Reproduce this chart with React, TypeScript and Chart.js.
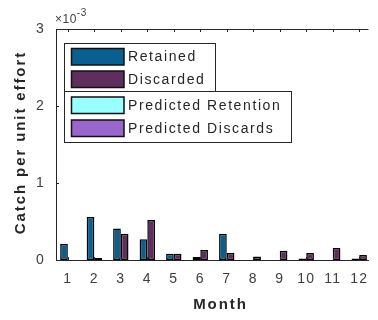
import React, { useEffect, useRef } from 'react';
import { Chart, registerables } from 'chart.js';

Chart.register(...registerables);

// ---- data (values in units of 10^-3) ----
const months = [1, 2, 3, 4, 5, 6, 7, 8, 9, 10, 11, 12];
const retained = [0.21, 0.56, 0.41, 0.27, 0.08, 0.04, 0.34, 0, 0, 0.02, 0, 0.02];
const discarded = [0, 0.025, 0.34, 0.52, 0.08, 0.13, 0.09, 0.045, 0.12, 0.09, 0.155, 0.065];
const predictedRetention: number[] = [];
const predictedDiscards: number[] = [];
const yTicks = [0, 1, 2, 3];
const exponent = '-3';
const seriesNames = ['Retained', 'Discarded', 'Predicted Retention', 'Predicted Discards'];
const seriesColors = ['#0a5f91', '#5f2d5e', '#99ffff', '#9966cc'];
const xTitle = 'Month';
const yTitle = 'Catch per unit effort';

const AXIS = '#262626';
const TICKTXT = '#404040';
const FONT = '"Liberation Sans", Arial, sans-serif';

function spacedText(ctx: any, text: string, cx: number, cy: number, spacing: number, rot: number) {
  ctx.save();
  ctx.letterSpacing = spacing + 'px';
  const w = ctx.measureText(text).width - spacing;
  ctx.translate(cx, cy);
  ctx.rotate(rot);
  ctx.textAlign = 'left';
  ctx.textBaseline = 'middle';
  ctx.fillText(text, -w / 2, 0);
  ctx.restore();
}

const matlabPlugin = {
  id: 'matlabDecor',
  beforeDraw(chart: any) {
    chart.ctx.letterSpacing = '1.3px';
  },
  afterDraw(chart: any) {
    const { ctx, chartArea: a, scales } = chart;
    ctx.save();
    ctx.strokeStyle = AXIS;
    ctx.lineWidth = 1;
    // top box line
    ctx.beginPath();
    ctx.moveTo(a.left, Math.round(a.top) + 0.5);
    ctx.lineTo(a.right, Math.round(a.top) + 0.5);
    ctx.stroke();
    // inward ticks
    const tl = 3;
    ctx.beginPath();
    for (const m of months) {
      const x = Math.round(scales.x.getPixelForValue(m)) + 0.5;
      ctx.moveTo(x, a.bottom);
      ctx.lineTo(x, a.bottom - tl);
      ctx.moveTo(x, a.top);
      ctx.lineTo(x, a.top + tl);
    }
    for (const t of yTicks) {
      const y = Math.round(scales.y.getPixelForValue(t)) + 0.5;
      ctx.moveTo(a.left, y);
      ctx.lineTo(a.left + tl, y);
    }
    ctx.stroke();

    // axis titles
    ctx.fillStyle = AXIS;
    ctx.font = `bold 15px ${FONT}`;
    spacedText(ctx, yTitle, 21, 143.5, 1.9, -Math.PI / 2);
    spacedText(ctx, xTitle, 219.5, 305, 1.9, 0);

    // exponent label
    ctx.fillStyle = TICKTXT;
    ctx.textBaseline = 'alphabetic';
    ctx.textAlign = 'left';
    ctx.font = `12px ${FONT}`;
    ctx.letterSpacing = '0.5px';
    const base = '\u00d710';
    ctx.fillText(base, 55, 23);
    const w = ctx.measureText(base).width;
    ctx.font = `10px ${FONT}`;
    ctx.fillText(exponent, 55 + w, 16);

    // legend (two boxes, as in MATLAB)
    const ds = chart.data.datasets;
    const boxes = [
      { x: 64, y: 43, w: 151, h: 48, items: [0, 1], rows: [48.5, 71] },
      { x: 64, y: 91, w: 227, h: 51, items: [2, 3], rows: [97, 120] },
    ];
    ctx.letterSpacing = '1.6px';
    for (const b of boxes) {
      ctx.fillStyle = '#ffffff';
      ctx.fillRect(b.x, b.y, b.w, b.h);
      ctx.strokeStyle = AXIS;
      ctx.lineWidth = 1;
      ctx.strokeRect(b.x + 0.5, b.y + 0.5, b.w, b.h);
      b.items.forEach((idx, k) => {
        const d = ds[idx];
        const ry = b.rows[k];
        ctx.fillStyle = d.backgroundColor;
        ctx.fillRect(71.5, ry, 52.5, 16.5);
        ctx.strokeStyle = '#111';
        ctx.lineWidth = 1.5;
        ctx.strokeRect(71.5, ry, 52.5, 16.5);
        ctx.fillStyle = AXIS;
        ctx.font = `14px ${FONT}`;
        ctx.textBaseline = 'middle';
        ctx.textAlign = 'left';
        ctx.fillText(d.label, 128, ry + 9);
      });
    }
    ctx.restore();
  },
};

export default function App() {
  const ref = useRef<HTMLCanvasElement | null>(null);
  useEffect(() => {
    if (!ref.current) return;
    const mk = (vals: number[]) => vals.map((v, i) => ({ x: months[i], y: v }));
    const barStyle = { borderColor: '#000000', borderWidth: 1.5, borderSkipped: false, inflateAmount: 0 };
    const chart = new Chart(ref.current, {
      type: 'bar',
      data: {
        datasets: [
          { label: seriesNames[0], data: mk(retained), backgroundColor: seriesColors[0], ...barStyle },
          { label: seriesNames[1], data: mk(discarded), backgroundColor: seriesColors[1], ...barStyle },
          { label: seriesNames[2], data: mk(predictedRetention), backgroundColor: seriesColors[2], ...barStyle, hidden: true },
          { label: seriesNames[3], data: mk(predictedDiscards), backgroundColor: seriesColors[3], ...barStyle, hidden: true },
        ] as any,
      },
      options: {
        animation: false,
        responsive: false,
        categoryPercentage: 0.58,
        barPercentage: 1,
        layout: { padding: { top: 29, left: 0, right: 0, bottom: 0 } },
        plugins: { legend: { display: false }, tooltip: { enabled: false } },
        scales: {
          x: {
            type: 'linear',
            offset: false,
            min: 0.553,
            max: 12.35,
            grid: { display: false, drawTicks: false, offset: false },
            border: { display: true, color: AXIS, width: 1 },
            afterBuildTicks: (s: any) => { s.ticks = months.map((v) => ({ value: v })); },
            afterFit: (s: any) => { s.height = 60; },
            ticks: { color: TICKTXT, font: { family: FONT, size: 14 }, padding: 11, maxRotation: 0, autoSkip: false, callback: (v: any) => String(v) },
            title: { display: false, text: xTitle },
          },
          y: {
            min: 0,
            max: 3,
            grid: { display: false, drawTicks: false },
            border: { display: true, color: AXIS, width: 1 },
            afterBuildTicks: (s: any) => { s.ticks = yTicks.map((v) => ({ value: v })); },
            afterFit: (s: any) => { s.width = 56; },
            ticks: { color: TICKTXT, font: { family: FONT, size: 14 }, padding: 11, callback: (v: any) => String(v) },
            title: { display: false, text: yTitle },
          },
        },
      } as any,
      plugins: [matlabPlugin],
    });
    return () => chart.destroy();
  }, []);
  return (
    <div style={{ position: 'absolute', left: 0, top: 0, width: 378, height: 320, background: '#fff' }}>
      <canvas ref={ref} width={378} height={320} style={{ width: 378, height: 320, display: 'block' }} />
    </div>
  );
}
